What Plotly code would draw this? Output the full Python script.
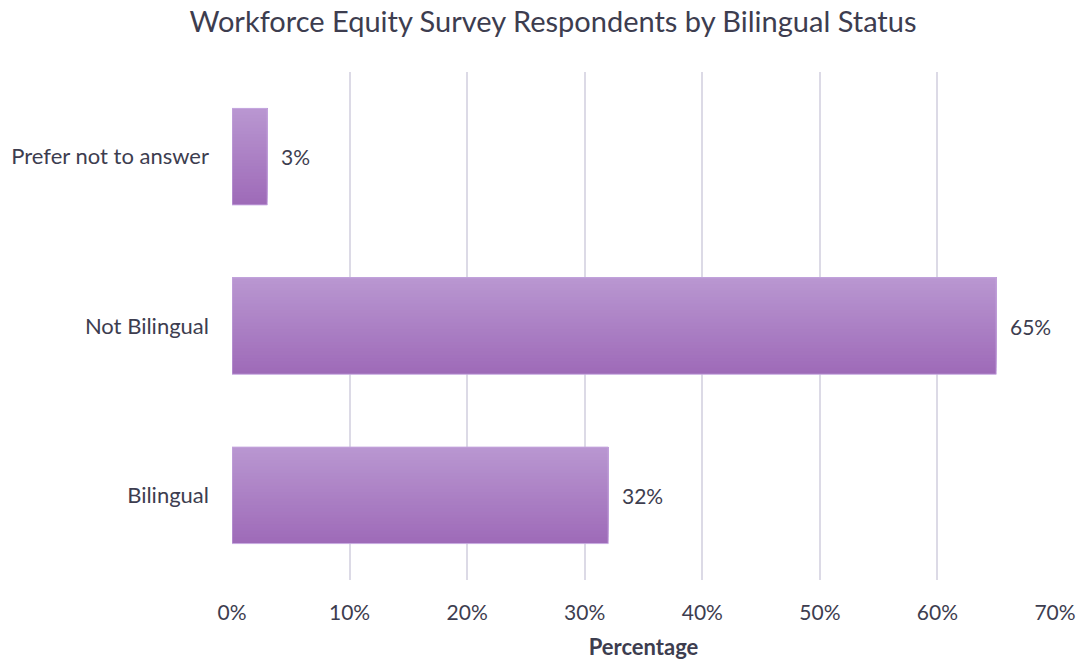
import plotly.graph_objects as go

# Survey data
categories = ["Bilingual", "Not Bilingual", "Prefer not to answer"]
percentages = [32, 65, 3]
x_ticks = [0, 10, 20, 30, 40, 50, 60, 70]

TEXT = "#3d3d4f"
GRID = "#dcdae6"
FONT = "Lato, 'Open Sans', sans-serif"

# Vertical gradient across each bar: lighter on top, darker at the bottom.
# Each layer runs from its own start up to the top edge; later layers sit on
# top, so only a thin band of each stays visible and no seams show.
top_rgb = (185, 151, 209)
bot_rgb = (158, 106, 184)
bar_width = 0.57
n_slices = 30
slice_w = bar_width / n_slices

fig = go.Figure()
for i in range(n_slices):
    t = (i + 0.5) / n_slices  # 0 = bottom edge, 1 = top edge
    r = round(bot_rgb[0] + (top_rgb[0] - bot_rgb[0]) * t)
    g = round(bot_rgb[1] + (top_rgb[1] - bot_rgb[1]) * t)
    b = round(bot_rgb[2] + (top_rgb[2] - bot_rgb[2]) * t)
    start = -bar_width / 2 + i * slice_w
    fig.add_trace(go.Bar(
        x=percentages, y=categories, orientation="h",
        width=bar_width / 2 - start, offset=start,
        marker=dict(color=f"rgb({r},{g},{b})", line=dict(width=0)),
        hoverinfo="skip", showlegend=False,
    ))

# Thin outline over the gradient
fig.add_trace(go.Bar(
    x=percentages, y=categories, orientation="h",
    width=bar_width, offset=-bar_width / 2,
    marker=dict(color="rgba(0,0,0,0)", line=dict(color="rgba(200,170,225,0.9)", width=1)),
    hovertemplate="%{y}: %{x}%<extra></extra>", showlegend=False,
))

# Value labels to the right of each bar
for cat, val in zip(categories, percentages):
    fig.add_annotation(
        x=val, y=cat, text=f"{val}%", showarrow=False,
        xanchor="left", yanchor="middle", xshift=12,
        font=dict(size=21, color=TEXT, family=FONT),
    )

fig.update_layout(
    width=1079, height=662,
    barmode="overlay",
    plot_bgcolor="white", paper_bgcolor="white",
    margin=dict(l=232, r=24, t=72, b=82),
    font=dict(family=FONT, color=TEXT, size=21),
    title=dict(
        text="Workforce Equity Survey Respondents by Bilingual Status",
        x=553 / 1079, xanchor="center", y=1 - 22 / 662, yanchor="middle",
        font=dict(size=29, color=TEXT, family=FONT),
    ),
)
fig.update_xaxes(
    range=[0, 70], tickvals=x_ticks, ticktext=[f"{v}%" for v in x_ticks],
    showgrid=True, gridcolor=GRID, gridwidth=2,
    zeroline=False, showline=False, ticks="",
    automargin=False,
    ticklabelstandoff=18, tickfont=dict(size=21, color=TEXT),
    title=dict(text="<b>Percentage</b>", font=dict(size=22, color=TEXT), standoff=16),
)
fig.update_yaxes(
    categoryorder="array", categoryarray=categories, range=[-0.5, 2.5],
    showgrid=False, zeroline=False, showline=False, ticks="",
    automargin=False,
    ticklabelstandoff=22, tickfont=dict(size=22, color=TEXT),
)

fig.write_html("out.html")
